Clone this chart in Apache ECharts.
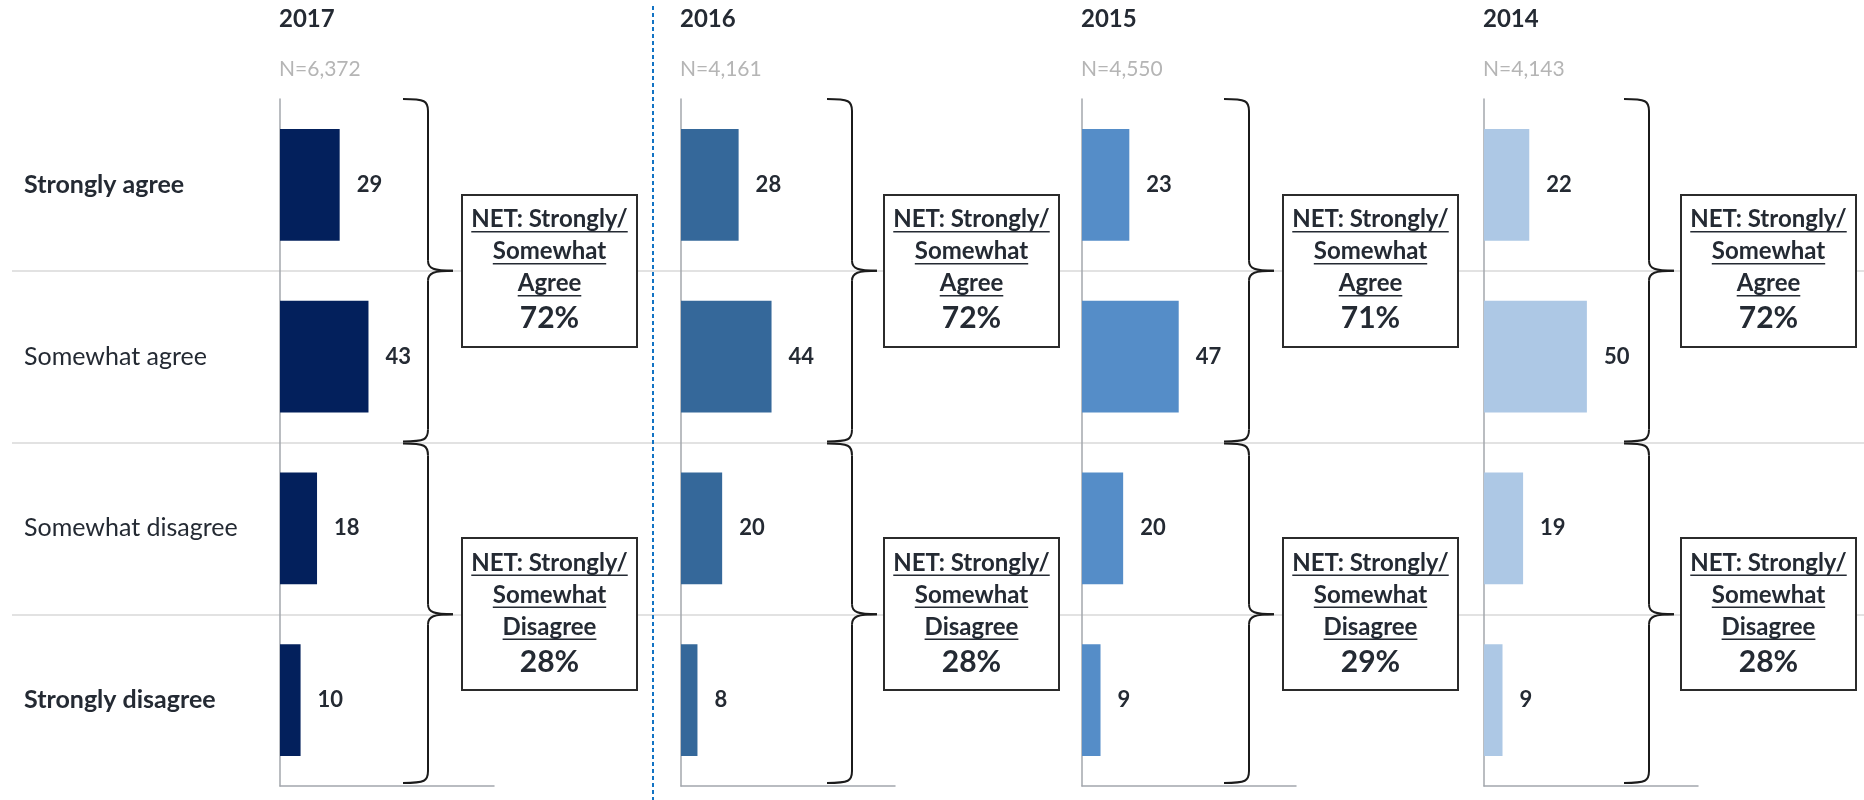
<!DOCTYPE html>
<html>
<head>
<meta charset="utf-8">
<title>Agreement by year</title>
<script src="https://cdn.jsdelivr.net/npm/echarts@6.0.0/dist/echarts.min.js"></script>
<style>
	html, body { margin: 0; padding: 0; background: #fff; }
	#chart { width: 1864px; height: 800px; }
</style>
</head>
<body>
<div id="chart"></div>
<script>
// data
var categories = ['Strongly agree', 'Somewhat agree', 'Somewhat disagree', 'Strongly disagree'];
var years = ['2017', '2016', '2015', '2014'];
var sampleSizes = ['N=6,372', 'N=4,161', 'N=4,550', 'N=4,143'];
var values2017 = [29, 43, 18, 10];
var values2016 = [28, 44, 20, 8];
var values2015 = [23, 47, 20, 9];
var values2014 = [22, 50, 19, 9];
var netAgree = [72, 72, 71, 72];
var netDisagree = [28, 28, 29, 28];
var agreeLines = ['NET: Strongly/', 'Somewhat', 'Agree'];
var disagreeLines = ['NET: Strongly/', 'Somewhat', 'Disagree'];

// layout
var panelValues = [values2017, values2016, values2015, values2014];
var barColors = ['#03205c', '#35689a', '#558dc8', '#adc8e5'];
var panelLeft = [280, 681, 1082, 1484];
var braceX = [428, 852, 1249, 1649];
var boxLeft = [462, 884, 1283, 1681];
var FONT = 'Lato';
var TEXT_COLOR = '#242a33';

var chart = echarts.init(document.getElementById('chart'));

function initCharts(){
	var grids = [], xAxes = [], yAxes = [], series = [], titles = [];

	// full width row separators
	grids.push({left: 12, right: 0, top: 99, bottom: 14});
	xAxes.push({type: 'value', gridIndex: 0, min: 0, max: 1, show: false});
	yAxes.push({
		type: 'category', gridIndex: 0, inverse: true, data: categories,
		axisLine: {show: false}, axisTick: {show: false}, axisLabel: {show: false},
		splitLine: {show: true, showMinLine: false, showMaxLine: false, lineStyle: {color: '#d9d9d9', width: 1.5}}
	});

	for(var i = 0; i < years.length; i++){
		var g = i + 1;
		grids.push({left: panelLeft[i], top: 99, width: 214, bottom: 14});
		xAxes.push({
			type: 'value', gridIndex: g, min: 0, max: 104,
			axisLine: {show: true, lineStyle: {color: '#a3a7ad', width: 1.5}},
			axisTick: {show: false}, axisLabel: {show: false}, splitLine: {show: false}
		});
		yAxes.push({
			type: 'category', gridIndex: g, inverse: true, data: categories,
			axisLine: {show: true, lineStyle: {color: '#a3a7ad', width: 1.5}},
			axisTick: {show: false},
			splitLine: {show: false},
			axisLabel: i == 0 ? {
				show: true, align: 'left', margin: panelLeft[0] - 24,
				formatter: function(value, idx){
					return (idx == 0 || idx == 3) ? '{b|' + value + '}' : '{n|' + value + '}';
				},
				rich: {
					b: {fontFamily: FONT, fontSize: 25, fontWeight: 'bold', color: TEXT_COLOR},
					n: {fontFamily: FONT, fontSize: 25, color: TEXT_COLOR}
				}
			} : {show: false}
		});
		series.push({
			type: 'bar', name: years[i], xAxisIndex: g, yAxisIndex: g,
			data: panelValues[i], barCategoryGap: '35%', silent: true,
			itemStyle: {color: barColors[i]},
			label: {
				show: true, position: 'right', distance: 17,
				fontFamily: FONT, fontSize: 22, fontWeight: 'bold', color: TEXT_COLOR
			}
		});
		titles.push({
			text: years[i], left: panelLeft[i] - 1, top: 7, padding: 0,
			textStyle: {fontFamily: FONT, fontSize: 24, fontWeight: 'bold', color: TEXT_COLOR}
		});
		titles.push({
			text: sampleSizes[i], left: panelLeft[i] - 1, top: 59, padding: 0,
			textStyle: {fontFamily: FONT, fontSize: 21, fontWeight: 'normal', color: '#b5b5b5'}
		});
	}

	var option = {
		animation: false,
		title: titles,
		grid: grids,
		xAxis: xAxes,
		yAxis: yAxes,
		series: series
	};
	chart.setOption(option);
	drawNotes();
}

var measureCtx = document.createElement('canvas').getContext('2d');
function textWidth(text, font){
	measureCtx.font = font;
	return measureCtx.measureText(text).width;
}

//右花括号
function brace(x, top, bottom, mid){
	var s = {stroke: '#1b1b1b', lineWidth: 2, fill: null};
	var h = 25;
	return [
		{type: 'bezierCurve', z: 10, style: s, shape: {x1: x - h, y1: top, cpx1: x - 3, cpy1: top, cpx2: x, cpy2: top + 2, x2: x, y2: top + 12}},
		{type: 'line', z: 10, style: s, shape: {x1: x, y1: top + 12, x2: x, y2: mid - 10}},
		{type: 'bezierCurve', z: 10, style: s, shape: {x1: x, y1: mid - 10, cpx1: x, cpy1: mid - 2, cpx2: x + 6, cpy2: mid, x2: x + h, y2: mid}},
		{type: 'bezierCurve', z: 10, style: s, shape: {x1: x + h, y1: mid, cpx1: x + 6, cpy1: mid, cpx2: x, cpy2: mid + 2, x2: x, y2: mid + 10}},
		{type: 'line', z: 10, style: s, shape: {x1: x, y1: mid + 10, x2: x, y2: bottom - 12}},
		{type: 'bezierCurve', z: 10, style: s, shape: {x1: x, y1: bottom - 12, cpx1: x, cpy1: bottom - 2, cpx2: x - 3, cpy2: bottom, x2: x - h, y2: bottom}}
	];
}

function netBox(left, mid, lines, pct){
	var w = 175, hgt = 152, cx = left + w / 2;
	var offsets = [-51, -19, 13];
	var els = [{
		type: 'rect', z: 10,
		shape: {x: left, y: Math.round(mid - hgt / 2), width: w, height: hgt},
		style: {fill: '#fff', stroke: '#2b2b2b', lineWidth: 2}
	}];
	var font = 'bold 24px ' + FONT;
	for(var k = 0; k < lines.length; k++){
		var y = mid + offsets[k];
		var tw = textWidth(lines[k], font);
		els.push({
			type: 'text', z: 11, x: cx, y: y,
			style: {text: lines[k], font: font, fill: TEXT_COLOR, align: 'center', verticalAlign: 'middle'}
		});
		els.push({
			type: 'line', z: 11,
			shape: {x1: cx - tw / 2, y1: y + 12, x2: cx + tw / 2, y2: y + 12},
			style: {stroke: TEXT_COLOR, lineWidth: 1.5}
		});
	}
	els.push({
		type: 'text', z: 11, x: cx, y: mid + 48,
		style: {text: pct, font: 'bold 30px ' + FONT, fill: TEXT_COLOR, align: 'center', verticalAlign: 'middle'}
	});
	return els;
}

function drawNotes(){
	var elements = [{
		type: 'line', z: 10,
		shape: {x1: 653, y1: 6, x2: 653, y2: 800},
		style: {stroke: '#1273c4', lineWidth: 2, lineDash: [4, 3]}
	}];
	for(var i = 0; i < years.length; i++){
		var c = [];
		for(var j = 0; j < categories.length; j++){
			c.push(chart.convertToPixel({yAxisIndex: i + 1}, categories[j]));
		}
		var band = c[1] - c[0];
		var top = c[0] - band / 2, bottom = c[3] + band / 2;
		var split = (c[1] + c[2]) / 2;
		var midAgree = (c[0] + c[1]) / 2, midDisagree = (c[2] + c[3]) / 2;
		elements = elements.concat(brace(braceX[i], top, split - 1, midAgree));
		elements = elements.concat(brace(braceX[i], split + 1, bottom - 3, midDisagree));
		elements = elements.concat(netBox(boxLeft[i], midAgree, agreeLines, netAgree[i] + '%'));
		elements = elements.concat(netBox(boxLeft[i], midDisagree, disagreeLines, netDisagree[i] + '%'));
	}
	chart.setOption({graphic: {elements: elements}});
}

initCharts();
</script>
</body>
</html>
